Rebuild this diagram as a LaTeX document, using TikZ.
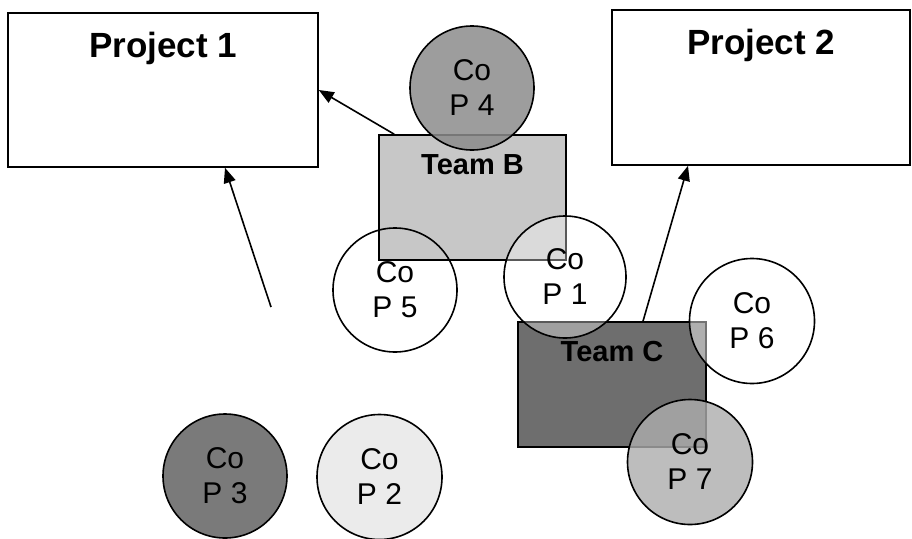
\documentclass[tikz,border=0pt]{standalone}
\usepackage{fontspec}
\setmainfont{Liberation Sans}
\usetikzlibrary{arrows.meta}
\newcommand{\ptitlefont}{\fontsize{35}{40}\selectfont\bfseries}
\newcommand{\teamfont}{\fontsize{29}{34}\selectfont\bfseries}
\newcommand{\copfont}{\fontsize{30}{35}\selectfont}
\begin{document}
\begin{tikzpicture}[x=1pt,y=-1pt,
  box/.style={draw=black,line width=1.6pt,rectangle,inner sep=0pt},
  cop/.style={draw=black,line width=1.6pt,circle,inner sep=0pt,align=center,font=\copfont,text opacity=1},
  arr/.style={line width=1.6pt,-{Triangle[length=15pt,width=12pt]}}
]
\useasboundingbox (0,0) rectangle (912,538);
\fill[white] (0,0) rectangle (912,538);

% projects
\node[box,minimum width=310pt,minimum height=154pt,
  label={[font=\ptitlefont,anchor=base,yshift=-45pt]north:Project 1}] (p1) at (163,90) {};
\node[box,minimum width=298pt,minimum height=155pt,
  label={[font=\ptitlefont,anchor=base,yshift=-45pt]north:Project 2}] (p2) at (761,87.5) {};

% teams
\node[box,fill=black!22,minimum width=187pt,minimum height=125pt,
  label={[font=\teamfont,anchor=base,yshift=-40pt]north:Team B}] (tb) at (472.5,197.5) {};
\node[box,fill=black!57,minimum width=188pt,minimum height=125pt,
  label={[font=\teamfont,anchor=base,yshift=-40pt]north:Team C}] (tc) at (612,384.5) {};

% communities of practice
\node[cop,fill=black!45,fill opacity=0.85,minimum size=124pt] (cop4) at (472,88) {Co\\P 4};
\node[cop,minimum size=124pt] (cop5) at (395,290) {Co\\P 5};
\node[cop,fill=white,fill opacity=0.35,minimum size=122pt] (cop1) at (565,277) {Co\\P 1};
\node[cop,fill=white,fill opacity=0.45,minimum size=125pt] (cop6) at (752,321) {Co\\P 6};
\node[cop,fill=black!32,fill opacity=0.8,minimum size=125pt] (cop7) at (690,462) {Co\\P 7};
\node[cop,fill=black!52,minimum size=124pt] (cop3) at (225,476) {Co\\P 3};
\node[cop,fill=black!8,minimum size=125pt] (cop2) at (379.5,477) {Co\\P 2};

% arrows
\coordinate (free) at (271,307);
\draw[arr] ([xshift=16pt]tb.north west) -- (p1.east);
\draw[arr] (free) -- ([xshift=62pt]p1.south);
\draw[arr] ([xshift=31pt]tc.north) -- ([xshift=-73pt]p2.south);
\end{tikzpicture}
\end{document}
